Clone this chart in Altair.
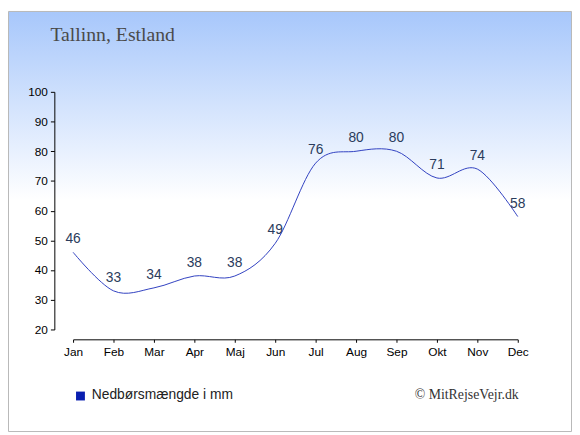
import altair as alt
import pandas as pd

months = ["Jan", "Feb", "Mar", "Apr", "Maj", "Jun", "Jul", "Aug", "Sep", "Okt", "Nov", "Dec"]
values = [46, 33, 34, 38, 38, 49, 76, 80, 80, 71, 74, 58]
title_text = "Tallinn, Estland"
legend_text = "Nedbørsmængde i mm"
credit_text = "© MitRejseVejr.dk"

df = pd.DataFrame({"idx": list(range(len(months))), "month": months, "value": values})
one = pd.DataFrame({"a": [0]})

W, H = 451, 241
PL, PT, PR, PB = 66, 82, 55, 104

label_expr = "[" + ",".join(f"'{m}'" for m in months) + "][datum.value]"

xs = alt.Scale(domain=[0, 11], nice=False, zero=False)
ys = alt.Scale(domain=[20, 100], nice=False, zero=False)

bg = alt.Chart(one).mark_rect(
    color=alt.Gradient(
        gradient="linear",
        stops=[
            alt.GradientStop(color="#a7c7fb", offset=0),
            alt.GradientStop(color="#ffffff", offset=0.45),
            alt.GradientStop(color="#ffffff", offset=1),
        ],
        x1=0, x2=0, y1=0, y2=1,
    ),
    stroke="#b8b8b8",
    strokeWidth=1,
).encode(
    x=alt.value(-PL + 0.5), x2=alt.value(W + PR - 0.5),
    y=alt.value(-PT + 0.5), y2=alt.value(H + PB - 0.5),
)

x_axis = alt.Axis(
    values=list(range(12)), labelExpr=label_expr, title=None, grid=False, zindex=1,
    labelFlush=False, labelOverlap=False,
    offset=10, tickSize=3, labelPadding=4, labelFontSize=12, labelFont="Liberation Sans",
    labelColor="#000", domainColor="#000", tickColor="#000")
y_axis = alt.Axis(
    values=list(range(20, 101, 10)), title=None, grid=False, zindex=1, tickSize=4, labelPadding=3,
    labelFlush=False, labelOverlap=False, offset=19,
    labelFontSize=12, labelFont="Liberation Sans", labelColor="#000",
    domainColor="#000", tickColor="#000")

x_enc = alt.X("idx:Q", scale=xs, axis=x_axis)
y_enc = alt.Y("value:Q", scale=ys, axis=y_axis)

line = alt.Chart(df).mark_line(interpolate="cardinal", color="#3040c0", strokeWidth=1).encode(
    x=x_enc, y=y_enc)

labels = alt.Chart(df).mark_text(
    dy=-9, baseline="alphabetic", align="center", fontSize=14,
    font="Liberation Sans", color="#2b3c5c").encode(
    x=x_enc, y=y_enc, text="value:Q")

title = alt.Chart(one).mark_text(
    text=title_text, font="Liberation Serif", fontSize=20, color="#4a4a4a",
    align="left", baseline="alphabetic").encode(x=alt.value(-23), y=alt.value(-52))

leg_sq = alt.Chart(one).mark_rect(color="#0a1fb0").encode(
    x=alt.value(3), x2=alt.value(12), y=alt.value(304), y2=alt.value(313))

leg_txt = alt.Chart(one).mark_text(
    text=legend_text, font="Liberation Sans", fontSize=14, color="#222",
    align="left", baseline="alphabetic").encode(x=alt.value(19), y=alt.value(312))

credit = alt.Chart(one).mark_text(
    text=credit_text, font="Liberation Serif", fontSize=14, color="#333",
    align="right", baseline="alphabetic").encode(x=alt.value(452), y=alt.value(312))

chart = alt.layer(bg, line, labels, title, leg_sq, leg_txt, credit).properties(
    width=W, height=H,
    autosize=alt.AutoSizeParams(type="none"),
    padding={"left": PL, "top": PT, "right": PR, "bottom": PB},
    background="white",
).configure_view(stroke="transparent").configure_axis(
    labelFontSize=12, labelFont="Liberation Sans", labelColor="#000", labelOverlap=False,
    labelFlush=False)

chart.save("out.html", embed_options={"renderer": "svg", "actions": False})
